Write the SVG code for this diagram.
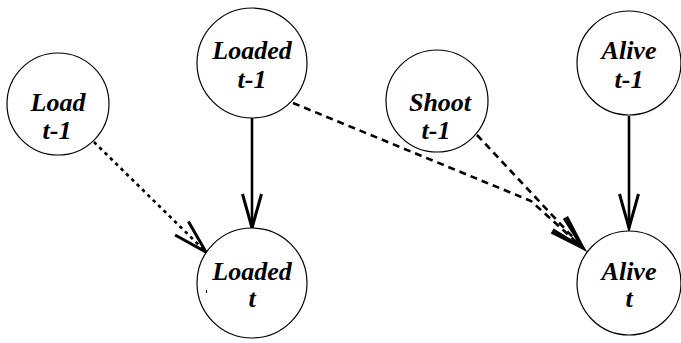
<svg xmlns="http://www.w3.org/2000/svg" width="681" height="343" viewBox="0 0 681 343">
<defs>
<style>
.node circle{fill:#fff;stroke:#000;stroke-width:1.2}
.node text{font-family:'Liberation Serif','Times New Roman',serif;font-weight:bold;font-style:italic;font-size:26px;text-anchor:middle;fill:#000}
.edge{fill:none;stroke:#000;stroke-width:2.6}
.dot{stroke-dasharray:3.5 4}
.dash{stroke-dasharray:7 5}
</style>
<marker id="arr" markerUnits="userSpaceOnUse" orient="auto" refX="0" refY="0" markerWidth="50" markerHeight="30" viewBox="-40 -15 50 30" overflow="visible">
<path d="M-34,-9.5 L0,0 L-34,9.5" fill="none" stroke="#000" stroke-width="3" stroke-dasharray="none"/>
</marker>
</defs>
<rect width="681" height="343" fill="#fff"/>
<g id="connectors">
<line class="edge dot" x1="94" y1="142" x2="206" y2="252" marker-end="url(#arr)"/>
<line class="edge" x1="252" y1="118" x2="252" y2="228" marker-end="url(#arr)"/>
<polyline class="edge dash" points="293,103 531,201 583,248" marker-end="url(#arr)"/>
<line class="edge dash" x1="477" y1="135" x2="583" y2="248" marker-end="url(#arr)"/>
<line class="edge" x1="629" y1="116" x2="629" y2="228" marker-end="url(#arr)"/>
</g>
<g id="load_t1" class="node">
<circle cx="58" cy="104" r="51"/>
<text x="58" y="111">Load</text>
<text x="57" y="139">t-1</text>
</g>
<g id="loaded_t1" class="node">
<circle cx="252" cy="63" r="55"/>
<text x="252" y="59">Loaded</text>
<text x="252" y="88">t-1</text>
</g>
<g id="shoot_t1" class="node">
<circle cx="437" cy="101" r="51"/>
<text x="440" y="111">Shoot</text>
<text x="436" y="139">t-1</text>
</g>
<g id="alive_t1" class="node">
<circle cx="629" cy="63" r="52"/>
<text x="629" y="59">Alive</text>
<text x="629" y="88">t-1</text>
</g>
<g id="loaded_t" class="node">
<circle cx="252" cy="283" r="55"/>
<text x="252" y="280">Loaded</text>
<text x="252" y="307">t</text>
<rect x="206" y="290" width="1" height="3" fill="#000"/>
</g>
<g id="alive_t" class="node">
<circle cx="629" cy="283" r="52"/>
<text x="629" y="280">Alive</text>
<text x="629" y="307">t</text>
</g>
</svg>
